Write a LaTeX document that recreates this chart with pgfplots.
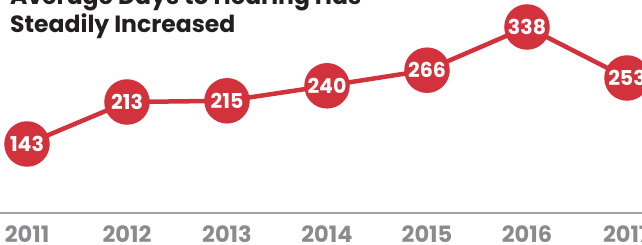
\documentclass[border=0pt]{standalone}
\usepackage{pgfplots}
\pgfplotsset{compat=1.18}
\usepackage{fontspec}
\setmainfont{Poppins}
\definecolor{myred}{HTML}{D1323C}
\definecolor{labgray}{HTML}{8B8B8F}
\definecolor{axgray}{HTML}{A3A3A3}
\definecolor{titlec}{HTML}{231F20}
\begin{document}
\begin{tikzpicture}[x=1pt,y=1pt]
\path[use as bounding box] (0,0) rectangle (642,245);
\clip (0,0) rectangle (642,245);
\node[anchor=base west, inner sep=0pt, text=titlec, font=\bfseries\fontsize{23.5}{23.5}\selectfont] at (10,240) {Average Days to Hearing Has};
\node[anchor=base west, inner sep=0pt, text=titlec, font=\bfseries\fontsize{23.5}{23.5}\selectfont] at (10,212) {Steadily Increased};
\begin{scope}[overlay]
\begin{axis}[
  at={(0pt,245pt)}, anchor=north west,
  scale only axis, width=642pt, height=213pt,
  xmin=2010.73, xmax=2017.15, ymin=28, ymax=383,
  enlargelimits=false,
  axis x line=bottom, axis y line=none,
  x axis line style={-, draw=axgray, line width=1.3pt},
  xtick={2011,2012,2013,2014,2015,2016,2017},
  xticklabels={2011,2012,2013,2014,2015,2016,2017},
  major tick length=0pt,
  xticklabel style={anchor=base, yshift=-30pt, text=labgray, font=\bfseries\fontsize{22.5}{22.5}\selectfont},
  clip=false,
]
\addplot[myred, line width=4.5pt, mark=*, mark size=20.5pt,
  mark options={fill=myred, draw=none},
  point meta=explicit symbolic,
  nodes near coords,
  every node near coord/.append style={anchor=center, text=white, font=\bfseries\fontsize{20.5}{20.5}\selectfont, inner sep=0pt},
] table[meta=lab] {
x y lab
2011 143 143
2012 213 213
2013 215 215
2014 240 240
2015 266 266
2016 338 338
2017 253 253
};
\end{axis}
\end{scope}
\end{tikzpicture}
\end{document}
